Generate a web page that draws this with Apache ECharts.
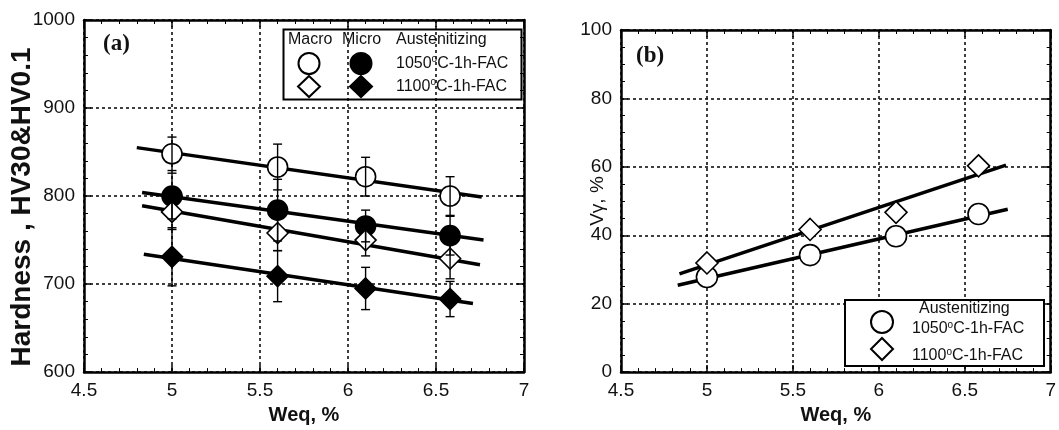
<!DOCTYPE html>
<html>
<head>
<meta charset="utf-8">
<script src="https://cdn.jsdelivr.net/npm/echarts@6/dist/echarts.min.js"></script>
<style>
html,body{margin:0;padding:0;background:#fff;}
#chart{width:1059px;height:430px;}
</style>
</head>
<body>
<div id="chart"></div>
<script>
// ---------- data ----------
const weq = [5, 5.6, 6.1, 6.58];

// panel (a) hardness
const macro1050 = [848, 833, 822, 800];
const macro1050Err = [19, 26, 22, 22];
const micro1050 = [800, 784, 766, 755];
const micro1050Err = [26, 35, 18, 22];
const macro1100 = [782, 758, 750, 729];
const macro1100Err = [20, 20, 18, 23];
const micro1100 = [731, 709, 695, 683];
const micro1100Err = [33, 29, 24, 20];

// regression lines (end points) panel (a)
const fitMacro1050 = [[4.80, 855], [6.76, 799]];
const fitMicro1050 = [[4.83, 804], [6.77, 750]];
const fitMacro1100 = [[4.83, 789], [6.75, 722]];
const fitMicro1100 = [[4.84, 734], [6.71, 678]];

// panel (b) V gamma
const vg1050 = [27.8, 34.2, 39.7, 46.2];
const vg1100 = [31.9, 41.7, 46.7, 60.3];
const fitVg1050 = [[4.83, 25.4], [6.75, 47.6]];
const fitVg1100 = [[4.84, 28.7], [6.74, 60.5]];

// axes
const xRange = [4.5, 7, 0.5];
const yRangeA = [600, 1000, 100];
const yRangeB = [0, 100, 20];

const label1050 = '1050{s|o}C-1h-FAC';
const label1100 = '1100{s|o}C-1h-FAC';

// ---------- helpers ----------
const FONT = '"Liberation Sans", Arial, sans-serif';
const grid = '#111';
const plain = v => String(v);

function mainX(gi, name) {
  return {
    type: 'value', gridIndex: gi, min: xRange[0], max: xRange[1], interval: xRange[2],
    position: 'bottom',
    axisLine: {show: true, onZero: false, lineStyle: {color: '#000', width: 2.5}},
    axisTick: {show: true, inside: true, length: 7, lineStyle: {color: '#000', width: 1.5}},
    minorTick: {show: true, splitNumber: 5, length: 4, lineStyle: {color: '#000', width: 1}},
    axisLabel: {color: '#111', fontSize: 19, fontFamily: FONT, margin: 9, formatter: plain},
    splitLine: {show: true, lineStyle: {color: grid, width: 1.6, type: [3, 3]}},
    name: name, nameLocation: 'middle', nameGap: 31,
    nameTextStyle: {fontSize: 20, fontWeight: 'bold', color: '#111', fontFamily: FONT}
  };
}
function mirrorX(gi) {
  return {
    type: 'value', gridIndex: gi, min: xRange[0], max: xRange[1], interval: xRange[2],
    position: 'top',
    axisLine: {show: true, onZero: false, lineStyle: {color: '#000', width: 2.5}},
    axisTick: {show: true, inside: true, length: 7, lineStyle: {color: '#000', width: 1.5}},
    minorTick: {show: true, splitNumber: 5, length: 4, lineStyle: {color: '#000', width: 1}},
    axisLabel: {show: false}, splitLine: {show: false}
  };
}
function mainY(gi, r, minor) {
  return {
    type: 'value', gridIndex: gi, min: r[0], max: r[1], interval: r[2],
    position: 'left',
    axisLine: {show: true, onZero: false, lineStyle: {color: '#000', width: 2.5}},
    axisTick: {show: true, inside: true, length: 7, lineStyle: {color: '#000', width: 1.5}},
    minorTick: {show: true, splitNumber: minor, length: 4, lineStyle: {color: '#000', width: 1}},
    axisLabel: {color: '#111', fontSize: 19, fontFamily: FONT, margin: 9, formatter: plain},
    splitLine: {show: true, lineStyle: {color: grid, width: 1.6, type: [3, 3]}}
  };
}
function mirrorY(gi, r, minor) {
  return {
    type: 'value', gridIndex: gi, min: r[0], max: r[1], interval: r[2],
    position: 'right',
    axisLine: {show: true, onZero: false, lineStyle: {color: '#000', width: 2.5}},
    axisTick: {show: true, inside: true, length: 7, lineStyle: {color: '#000', width: 1.5}},
    minorTick: {show: true, splitNumber: minor, length: 4, lineStyle: {color: '#000', width: 1}},
    axisLabel: {show: false}, splitLine: {show: false}
  };
}
function pts(xs, ys) { return xs.map((x, i) => [x, ys[i]]); }
function errData(xs, ys, es) { return xs.map((x, i) => [x, ys[i], es[i]]); }

function fitLine(name, data, xi, yi) {
  return {
    name: name, type: 'line', xAxisIndex: xi, yAxisIndex: yi, data: data,
    showSymbol: false, symbol: 'none', silent: true, z: 1,
    lineStyle: {color: '#000', width: 3.5}
  };
}
function scatter(name, data, symbol, filled, xi, yi, size) {
  return {
    name: name, type: 'scatter', xAxisIndex: xi, yAxisIndex: yi, data: data,
    symbol: symbol, symbolSize: size, z: 2,
    itemStyle: {color: filled ? '#000' : '#fff', borderColor: '#000', borderWidth: 1.6, opacity: 1}
  };
}
function errorBars(name, data) {
  return {
    name: name, type: 'custom', xAxisIndex: 0, yAxisIndex: 0, z: 3, silent: true,
    data: data,
    encode: {x: 0, y: 1},
    renderItem: function (params, api) {
      const x = api.value(0), y = api.value(1), e = api.value(2);
      const t = api.coord([x, y + e]);
      const b = api.coord([x, y - e]);
      const cw = 4.5;
      const st = {stroke: '#000', lineWidth: 1.4, fill: null};
      return {
        type: 'group',
        children: [
          {type: 'line', shape: {x1: t[0], y1: t[1], x2: b[0], y2: b[1]}, style: st},
          {type: 'line', shape: {x1: t[0] - cw, y1: t[1], x2: t[0] + cw, y2: t[1]}, style: st},
          {type: 'line', shape: {x1: b[0] - cw, y1: b[1], x2: b[0] + cw, y2: b[1]}, style: st}
        ]
      };
    }
  };
}

const nameMap = {
  'Micro 1050': label1050, 'Micro 1100': label1100,
  'Vγ 1050': label1050, 'Vγ 1100': label1100
};
const legendText = {
  color: '#111', fontSize: 16, fontFamily: FONT, lineHeight: 18,
  rich: {s: {fontSize: 10, verticalAlign: 'top', lineHeight: 12, padding: [0, 0, 6, 0], color: '#111', fontFamily: FONT}}
};

const option = {
  animation: false,
  backgroundColor: '#fff',
  grid: [
    {left: 84, top: 20, width: 440, height: 355},
    {left: 621, top: 30, width: 430, height: 345}
  ],
  xAxis: [mainX(0, 'Weq, %'), mirrorX(0), mainX(1, 'Weq, %'), mirrorX(1)],
  yAxis: [
    mainY(0, yRangeA, 5),
    mirrorY(0, yRangeA, 5),
    mainY(1, yRangeB, 4),
    mirrorY(1, yRangeB, 4)
  ],
  legend: [
    {
      data: ['Macro 1050', 'Macro 1100'], orient: 'vertical', left: 292, top: 47,
      itemWidth: 22, itemHeight: 21, itemGap: 0, formatter: () => '',
      selectedMode: false, textStyle: legendText
    },
    {
      data: ['Micro 1050', 'Micro 1100'], orient: 'vertical', left: 344, top: 47,
      itemWidth: 22, itemHeight: 21, itemGap: 0, selectedMode: false,
      formatter: n => nameMap[n], textStyle: Object.assign({padding: [0, 0, 0, 19]}, legendText)
    },
    {
      data: ['Vγ 1050', 'Vγ 1100'], orient: 'vertical', left: 865, top: 301,
      itemWidth: 22, itemHeight: 22, itemGap: -5, selectedMode: false,
      formatter: n => nameMap[n], textStyle: Object.assign({padding: [14, 0, 0, 14]}, legendText)
    }
  ],
  graphic: [
    {type: 'rect', left: 281, top: 27, shape: {width: 238, height: 70}, style: {fill: 'none', stroke: '#000', lineWidth: 2}, z: 10},
    {type: 'text', left: 288, top: 32, style: {text: 'Macro', fontSize: 16, fill: '#111', fontFamily: FONT}, z: 10},
    {type: 'text', left: 342, top: 32, style: {text: 'Micro', fontSize: 16, fill: '#111', fontFamily: FONT}, z: 10},
    {type: 'text', left: 396, top: 32, style: {text: 'Austenitizing', fontSize: 16, fill: '#111', fontFamily: FONT}, z: 10},
    {type: 'rect', left: 844, top: 299, shape: {width: 199, height: 66}, style: {fill: '#fff', stroke: '#000', lineWidth: 2}, z: 4},
    {type: 'text', left: 919, top: 301, style: {text: 'Austenitizing', fontSize: 16, fill: '#111', fontFamily: FONT}, z: 10},
    {type: 'text', x: 22, y: 207, rotation: Math.PI / 2,
      style: {text: 'Hardness , HV30&HV0.1', fontSize: 28, fontWeight: 'bold', fill: '#111', fontFamily: FONT, align: 'center', verticalAlign: 'middle'}, z: 10},
    {type: 'text', x: 598, y: 201, rotation: Math.PI / 2,
      style: {text: 'Vγ, %', fontSize: 19, fill: '#111', fontFamily: FONT, align: 'center', verticalAlign: 'middle'}, z: 10},
    {type: 'text', left: 103, top: 33, style: {text: '(a)', fontSize: 23, fontWeight: 'bold', fill: '#111', fontFamily: '"Liberation Serif", "Times New Roman", serif'}, z: 10},
    {type: 'text', left: 636, top: 45, style: {text: '(b)', fontSize: 23, fontWeight: 'bold', fill: '#111', fontFamily: '"Liberation Serif", "Times New Roman", serif'}, z: 10}
  ],
  series: [
    fitLine('fit Macro 1050', fitMacro1050, 0, 0),
    fitLine('fit Micro 1050', fitMicro1050, 0, 0),
    fitLine('fit Macro 1100', fitMacro1100, 0, 0),
    fitLine('fit Micro 1100', fitMicro1100, 0, 0),
    scatter('Macro 1050', pts(weq, macro1050), 'circle', false, 0, 0, 20),
    scatter('Micro 1050', pts(weq, micro1050), 'circle', true, 0, 0, 20),
    scatter('Macro 1100', pts(weq, macro1100), 'diamond', false, 0, 0, 21),
    scatter('Micro 1100', pts(weq, micro1100), 'diamond', true, 0, 0, 21),
    errorBars('err Macro 1050', errData(weq, macro1050, macro1050Err)),
    errorBars('err Micro 1050', errData(weq, micro1050, micro1050Err)),
    errorBars('err Macro 1100', errData(weq, macro1100, macro1100Err)),
    errorBars('err Micro 1100', errData(weq, micro1100, micro1100Err)),
    fitLine('fit Vγ 1050', fitVg1050, 2, 2),
    fitLine('fit Vγ 1100', fitVg1100, 2, 2),
    scatter('Vγ 1050', pts(weq, vg1050), 'circle', false, 2, 2, 21),
    scatter('Vγ 1100', pts(weq, vg1100), 'diamond', false, 2, 2, 22)
  ]
};

const chart = echarts.init(document.getElementById('chart'), null, {renderer: 'canvas'});
chart.setOption(option);
</script>
</body>
</html>
